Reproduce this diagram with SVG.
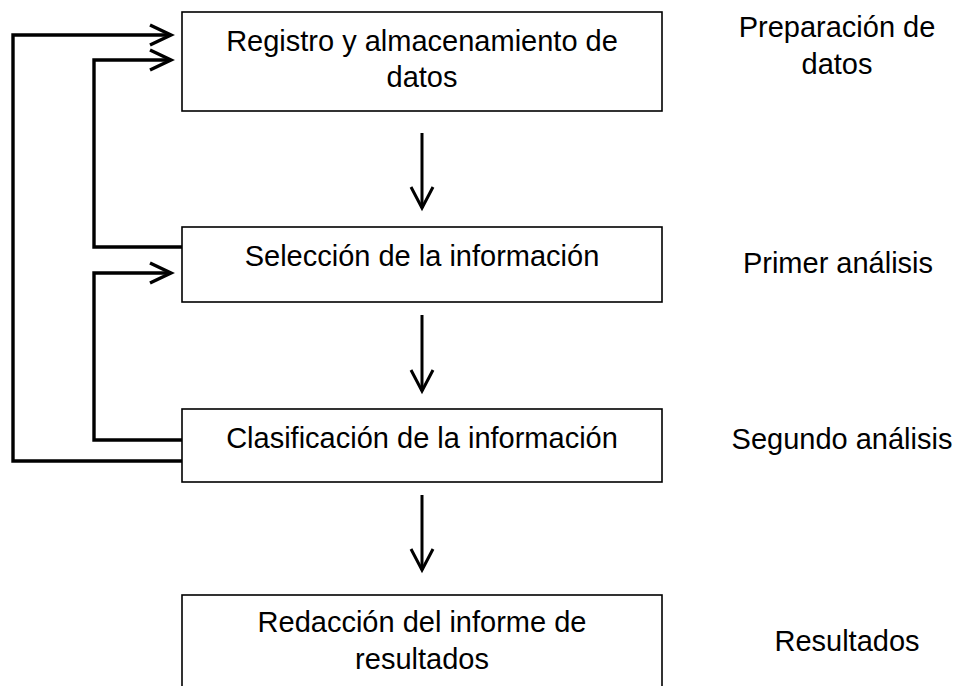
<svg xmlns="http://www.w3.org/2000/svg" width="957" height="686" viewBox="0 0 957 686">
<style>
  .box { fill: #ffffff; stroke: #000000; stroke-width: 1.6; }
  .t { font-family: "Liberation Sans", Arial, sans-serif; font-size: 29px; fill: #000000; text-anchor: middle; }
  .fb { fill: none; stroke: #000000; stroke-width: 3.4; stroke-linejoin: miter; }
  .down { fill: none; stroke: #000000; stroke-width: 3; }
</style>
<defs>
  <marker id="headSide" markerUnits="userSpaceOnUse" markerWidth="30" markerHeight="30" refX="22" refY="11" orient="auto" overflow="visible">
    <path d="M1,1 L22,11 L1,21" fill="none" stroke="#000000" stroke-width="3.4" stroke-linejoin="miter"/>
  </marker>
  <marker id="headDown" markerUnits="userSpaceOnUse" markerWidth="30" markerHeight="30" refX="21" refY="11" orient="auto" overflow="visible">
    <path d="M0,0 L21,11 L0,22" fill="none" stroke="#000000" stroke-width="3" stroke-linejoin="miter"/>
  </marker>
</defs>
<rect width="957" height="686" fill="#ffffff"/>

<g id="connectors">
  <path class="fb" d="M182,461 H13 V35 H171" marker-end="url(#headSide)"/>
  <path class="fb" d="M182,247 H94 V60 H171" marker-end="url(#headSide)"/>
  <path class="fb" d="M182,440 H94 V273 H171" marker-end="url(#headSide)"/>
  <path class="down" d="M422,133 V208" marker-end="url(#headDown)"/>
  <path class="down" d="M422,315 V391" marker-end="url(#headDown)"/>
  <path class="down" d="M422,495 V570" marker-end="url(#headDown)"/>
</g>

<g id="node-registro">
  <rect class="box" x="182" y="12" width="480" height="99"/>
  <text class="t" x="422" y="51">Registro y almacenamiento de</text>
  <text class="t" x="422" y="87">datos</text>
</g>
<g id="node-seleccion">
  <rect class="box" x="182" y="227" width="480" height="75"/>
  <text class="t" x="422" y="266">Selección de la información</text>
</g>
<g id="node-clasificacion">
  <rect class="box" x="182" y="409" width="480" height="73"/>
  <text class="t" x="422" y="448">Clasificación de la información</text>
</g>
<g id="node-redaccion">
  <rect class="box" x="182" y="595" width="480" height="110"/>
  <text class="t" x="422" y="632">Redacción del informe de</text>
  <text class="t" x="422" y="669">resultados</text>
</g>

<g id="labels">
  <text class="t" x="837" y="37">Preparación de</text>
  <text class="t" x="837" y="74">datos</text>
  <text class="t" x="838" y="273">Primer análisis</text>
  <text class="t" x="842" y="449">Segundo análisis</text>
  <text class="t" x="847" y="651">Resultados</text>
</g>
</svg>
